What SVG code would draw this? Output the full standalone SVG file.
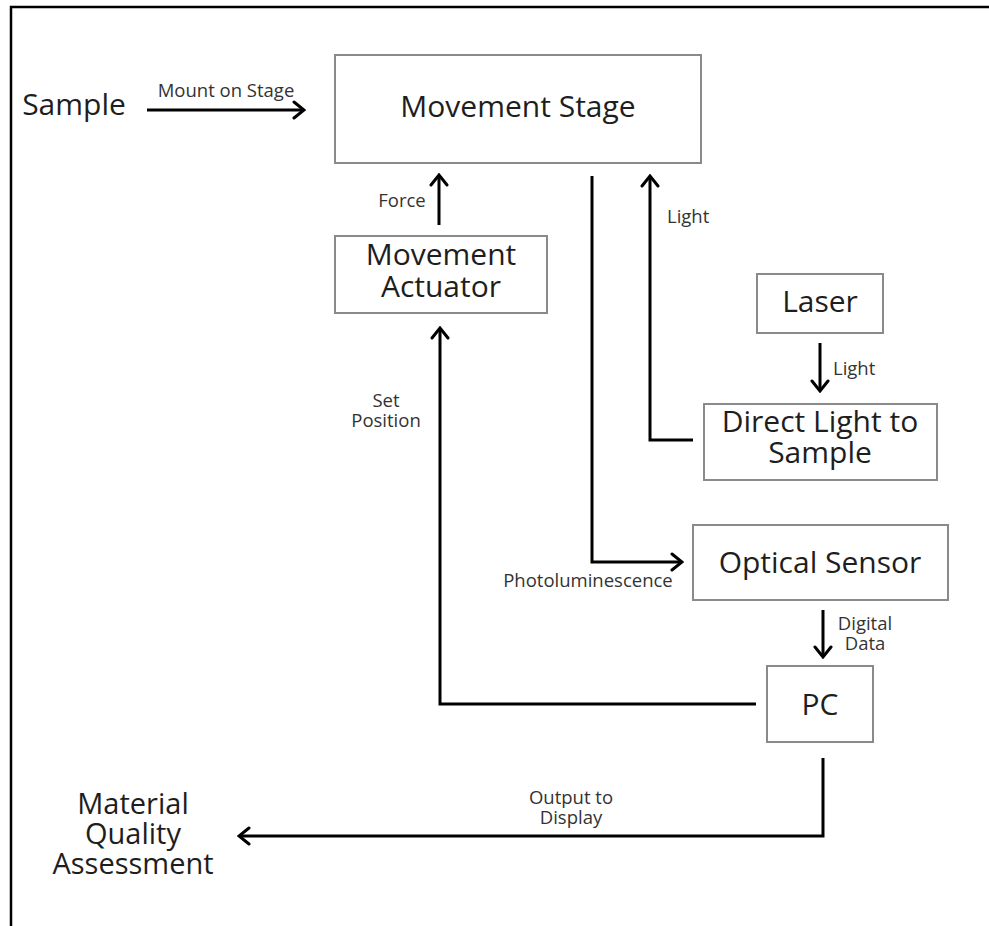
<svg xmlns="http://www.w3.org/2000/svg" width="989" height="926" viewBox="0 0 989 926">
<defs>
<style>
.box{fill:#fff;stroke:#8a8a8a;stroke-width:2}
.main{font-family:"Open Sans","Liberation Sans",sans-serif;font-size:30px;fill:#1e1e1e;text-anchor:middle}
.lbl{font-family:"Open Sans","Liberation Sans",sans-serif;font-size:18.5px;fill:#333;text-anchor:middle}
.con{fill:none;stroke:#000;stroke-width:3;marker-end:url(#arr)}
</style>
<marker id="arr" viewBox="-14 -10 16 20" markerWidth="16" markerHeight="20" refX="0" refY="0" orient="auto" markerUnits="userSpaceOnUse">
<path d="M-10,-8 L0,0 L-10,8" fill="none" stroke="#000" stroke-width="3" stroke-linecap="round"/>
</marker>
</defs>
<rect width="989" height="926" fill="#fff"/>
<path d="M11,926 V7 H989" fill="none" stroke="#000" stroke-width="2.5"/>

<g id="sample"><text class="main" x="74" y="115">Sample</text></g>
<g id="movement-stage"><rect class="box" x="335" y="55" width="366" height="108"/><text class="main" x="518" y="117">Movement Stage</text></g>
<g id="movement-actuator"><rect class="box" x="335" y="236" width="212" height="77"/><text class="main" x="441" y="265">Movement</text><text class="main" x="441" y="297">Actuator</text></g>
<g id="laser"><rect class="box" x="757" y="274" width="126" height="59"/><text class="main" x="820" y="312">Laser</text></g>
<g id="direct-light"><rect class="box" x="704" y="404" width="233" height="76"/><text class="main" x="820" y="432">Direct Light to</text><text class="main" x="820" y="463">Sample</text></g>
<g id="optical-sensor"><rect class="box" x="693" y="525" width="255" height="75"/><text class="main" x="820" y="573">Optical Sensor</text></g>
<g id="pc"><rect class="box" x="767" y="666" width="106" height="76"/><text class="main" x="820" y="715">PC</text></g>
<g id="mqa"><text class="main" x="133" y="814" style="font-size:29px">Material</text><text class="main" x="133" y="844" style="font-size:29px">Quality</text><text class="main" x="133" y="874" style="font-size:29px">Assessment</text></g>

<g id="connectors">
<path class="con" d="M147,110 H304"/>
<text class="lbl" x="226" y="97">Mount on Stage</text>
<path class="con" d="M439,225 V175"/>
<text class="lbl" x="402" y="207">Force</text>
<path class="con" d="M756,704 H440 V328"/>
<text class="lbl" x="386" y="407">Set</text>
<text class="lbl" x="386" y="427">Position</text>
<path class="con" d="M592,176 V562 H682"/>
<text class="lbl" x="588" y="587">Photoluminescence</text>
<path class="con" d="M693,440 H650 V176"/>
<text class="lbl" x="667" y="223" style="text-anchor:start">Light</text>
<path class="con" d="M820,343 V391"/>
<text class="lbl" x="833" y="375" style="text-anchor:start">Light</text>
<path class="con" d="M823,610 V657"/>
<text class="lbl" x="865" y="630">Digital</text>
<text class="lbl" x="865" y="650">Data</text>
<path class="con" d="M823,758 V836 H239"/>
<text class="lbl" x="571" y="804">Output to</text>
<text class="lbl" x="571" y="824">Display</text>
</g>
</svg>
